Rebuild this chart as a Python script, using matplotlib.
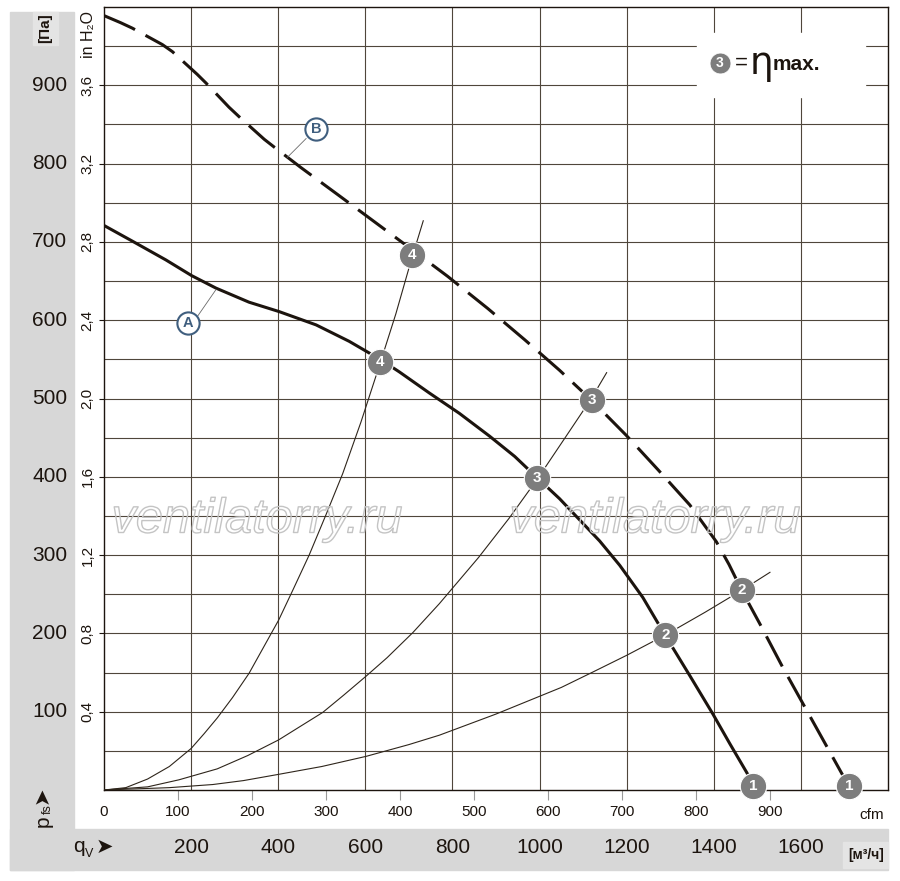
import numpy as np
import matplotlib
matplotlib.use('Agg')
import matplotlib.pyplot as plt
from matplotlib.patches import Rectangle
from matplotlib import patheffects

plt.rcParams['font.family'] = ['Liberation Sans', 'DejaVu Sans']
plt.rcParams['lines.scale_dashes'] = False

# кривая A (сплошная), м3/ч -> Па
curve_a_q = [0, 65, 142, 201, 257, 333, 402, 487, 563, 634, 678, 747, 816, 885, 943,
             996, 1046, 1092, 1138, 1184, 1237, 1289, 1345, 1398, 1437, 1476, 1487]
curve_a_p = [721, 701, 677, 657, 641, 623, 611, 594, 573, 550, 534, 507, 481, 452, 426,
             398, 372, 345, 318, 287, 246, 197, 146, 97, 59, 22, 10]

# кривая B (пунктир)
curve_b_q = [0, 38, 65, 134, 157, 214, 234, 287, 310, 368, 391, 452, 540, 625, 705,
             789, 881, 966, 1046, 1119, 1199, 1272, 1345, 1406, 1435, 1466, 1506,
             1558, 1611, 1663, 1694, 1706]
curve_b_p = [989, 980, 973, 952, 943, 914, 903, 872, 860, 831, 821, 795, 759, 724, 691,
             656, 615, 575, 536, 498, 453, 409, 364, 317, 288, 253, 212,
             157, 104, 52, 21, 10]

# характеристики сети
sys4_q = [0, 50, 100, 150, 200, 230, 260, 295, 333, 365, 401, 435, 471, 510, 548,
          590, 634, 670, 705, 733]
sys4_p = [0, 3, 14, 30, 53, 72, 92, 118, 149, 181, 217, 257, 300, 352, 404,
          470, 545, 608, 676, 727]
sys3_q = [0, 100, 172, 260, 330, 401, 450, 502, 550, 603, 650, 709, 770, 860, 930,
          996, 1060, 1119, 1154]
sys3_p = [0, 4, 13, 27, 44, 64, 81, 99, 121, 146, 169, 201, 238, 297, 347,
          398, 451, 500, 533]
sys2_q = [0, 150, 250, 320, 401, 500, 602, 700, 770, 900, 1050, 1120, 1200, 1289,
          1380, 1464, 1529]
sys2_p = [0, 3, 7, 12, 20, 30, 43, 58, 70, 97, 131, 150, 172, 198,
          227, 255, 278]

# рабочие точки
pts_a_q = [1490, 1289, 995, 634]
pts_a_p = [5, 198, 398, 546]
pts_b_q = [1710, 1464, 1120, 706]
pts_b_p = [5, 255, 498, 683]
pts_labels = ['1', '2', '3', '4']

# оси
pa_ticks = [100, 200, 300, 400, 500, 600, 700, 800, 900]
inh2o_labels = ['0,4', '0,8', '1,2', '1,6', '2,0', '2,4', '2,8', '3,2', '3,6']
cfm_values = [0, 100, 200, 300, 400, 500, 600, 700, 800, 900]
m3h_per_cfm = 1.699
m3h_ticks = [200, 400, 600, 800, 1000, 1200, 1400, 1600]

W, H = 900, 881
def fx(px):
    return px / W
def fy(py):
    return 1 - py / H

ink = '#1c140e'
gridc = '#4f463b'
band = '#d7d7d7'

fig = plt.figure(figsize=(9, 8.81), dpi=100)
fig.patch.set_facecolor('white')

# серые поля
def band_rect(x0, y0, x1, y1, color):
    fig.patches.append(Rectangle((fx(x0), fy(y1)), fx(x1) - fx(x0), fy(y0) - fy(y1),
                                 transform=fig.transFigure, color=color, zorder=-1))

band_rect(10, 12, 74, 870, band)
band_rect(10, 829, 888, 870, band)
band_rect(33, 12, 58, 45, '#e4e4e4')
band_rect(843, 842, 888, 868, '#e4e4e4')

ax = fig.add_axes([fx(104), fy(790), fx(888) - fx(104), fy(7) - fy(790)])
ax.set_xlim(0, 1800)
ax.set_ylim(0, 1000)
for s in ax.spines.values():
    s.set_color(ink)
    s.set_linewidth(1.0)

# сетка
ax.set_xticks([c * m3h_per_cfm for c in cfm_values[1:]])
ax.set_xticks(m3h_ticks, minor=True)
ax.set_yticks(pa_ticks)
ax.set_yticks([p + 50 for p in [0] + pa_ticks], minor=True)
ax.tick_params(axis='x', which='major', direction='out', length=7, color='#999999',
               labelbottom=False)
ax.tick_params(axis='y', which='major', direction='out', length=3.6, color=ink,
               labelleft=False)
ax.tick_params(which='minor', length=0, labelbottom=False, labelleft=False)
ax.xaxis.grid(True, which='minor', color=gridc, lw=0.8)
ax.yaxis.grid(True, which='both', color=gridc, lw=0.8)
ax.set_axisbelow(True)

# водяной знак
for cx in [257, 655]:
    fig.text(fx(cx), fy(520), 'ventilatorry.ru', ha='center', va='center',
             fontsize=35, style='italic', color=(1, 1, 1, 0), zorder=5,
             path_effects=[patheffects.Stroke(linewidth=1.0, foreground='#c4c4c4')])

# характеристики сети
for q, p in [(sys4_q, sys4_p), (sys3_q, sys3_p), (sys2_q, sys2_p)]:
    ax.plot(q, p, color='#2e251b', lw=0.8, zorder=3, solid_joinstyle='round')

# кривые вентилятора
ax.plot(curve_a_q, curve_a_p, color=ink, lw=2.2, zorder=4, solid_capstyle='butt',
        solid_joinstyle='round')
ax.plot(curve_b_q, curve_b_p, color=ink, lw=2.2, zorder=4, dashes=(24.5, 8.6),
        dash_capstyle='butt', dash_joinstyle='round')

# точки
for qs, ps in [(pts_a_q, pts_a_p), (pts_b_q, pts_b_p)]:
    ax.plot(qs, ps, 'o', ms=19, mfc='#7d7d7d', mec='white', mew=0.8, zorder=6,
            clip_on=False)
    for q, p, t in zip(qs, ps, pts_labels):
        ax.text(q, p, t, ha='center', va='center', color='white', fontsize=11,
                fontweight='bold', zorder=7)

# обозначения A, B
blue = '#3f5e7e'
ax.plot([211, 257], [602, 639], color='#6a6a6a', lw=0.6, zorder=5)
ax.plot([464, 421], [832, 808], color='#6a6a6a', lw=0.6, zorder=5)
for q, p, t in [(193, 596, 'A'), (487, 844, 'B')]:
    ax.plot([q], [p], 'o', ms=16, mfc='white', mec=blue, mew=1.5, zorder=6)
    ax.text(q, p, t, ha='center', va='center', color=blue, fontsize=10.5,
            fontweight='bold', zorder=7)

# легенда
def axc(px, py):
    return (px - 104) / 784, (790 - py) / 783

ax.add_patch(Rectangle(axc(697, 97), (865 - 697) / 784, (97 - 33) / 783,
                       transform=ax.transAxes, color='white', zorder=2))
lx, ly = axc(720, 63)
ax.plot([lx], [ly], 'o', ms=15, mfc='#7d7d7d', mec='white', mew=0.5,
        transform=ax.transAxes, zorder=6)
ax.text(lx, ly, '3', ha='center', va='center', color='white', fontsize=10,
        fontweight='bold', transform=ax.transAxes, zorder=7)
fig.text(fx(741), fy(63), '=', ha='center', va='center', color=ink, fontsize=16,
         zorder=11)
fig.text(fx(761), fy(64), 'η', ha='center', va='center', color=ink, fontsize=27,
         family='DejaVu Sans', zorder=11)
fig.text(fx(773), fy(64), 'max.', ha='left', va='center', color=ink, fontsize=15,
         fontweight='bold', zorder=11)

# подписи оси давления
ytr = ax.get_yaxis_transform()
for p, lab in zip(pa_ticks, inh2o_labels):
    ax.text(-0.047, p, str(p), transform=ytr, ha='right', va='center',
            fontsize=15, color=ink)
    ax.text(-0.021, p, lab, transform=ytr, ha='center', va='center',
            fontsize=11, color=ink, rotation=90)
fig.text(fx(88), fy(35), 'in H₂O', ha='center', va='center', rotation=90,
         fontsize=11.5, color=ink)
fig.text(fx(45), fy(28), '[Па]', ha='center', va='center', rotation=90,
         fontsize=11, fontweight='bold', color=ink)

# подписи оси расхода
xtr = ax.get_xaxis_transform()
for c in cfm_values:
    ax.text(c * m3h_per_cfm, -0.028, str(c), transform=xtr, ha='center',
            va='center', fontsize=11, color=ink)
for m in m3h_ticks:
    ax.text(m, -0.074, str(m), transform=xtr, ha='center', va='center',
            fontsize=15, color=ink)
fig.text(fx(872), fy(815), 'cfm', ha='center', va='center', fontsize=11, color=ink)
fig.text(fx(866), fy(855), '[м³/ч]', ha='center', va='center', fontsize=10,
         fontweight='bold', color=ink)

# p_fs и q_V
fig.text(fx(43), fy(821), 'p', ha='center', va='center', rotation=90, fontsize=15,
         color=ink)
fig.text(fx(48), fy(809), 'fs', ha='center', va='center', rotation=90, fontsize=9,
         color=ink)
fig.text(fx(42), fy(795), '➤', ha='center', va='center', rotation=90, fontsize=15,
         color=ink, family='DejaVu Sans')
fig.text(fx(79), fy(846), 'q', ha='center', va='center', fontsize=15, color=ink)
fig.text(fx(89), fy(854), 'V', ha='center', va='center', fontsize=9, color=ink)
fig.text(fx(104), fy(847), '➤', ha='center', va='center', fontsize=15, color=ink,
         family='DejaVu Sans')

fig.savefig('out.png', dpi=100)
